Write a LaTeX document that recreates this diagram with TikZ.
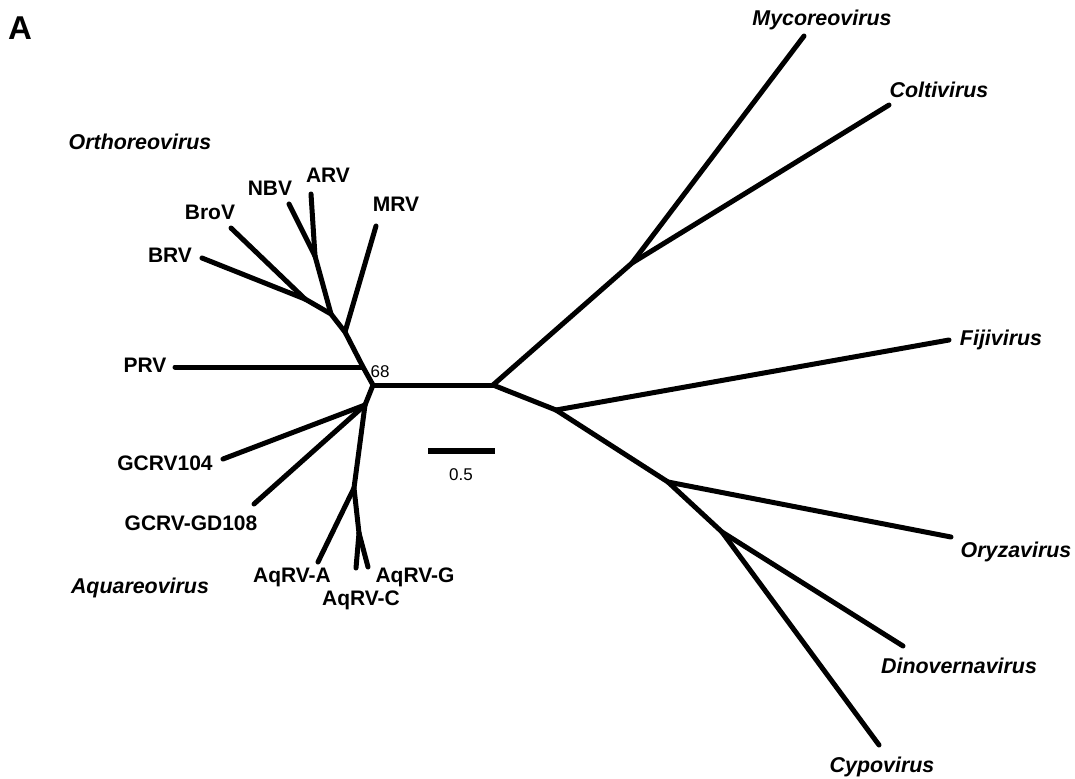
\documentclass[tikz,border=0pt]{standalone}
\usepackage{fontspec}
\setmainfont{Liberation Sans}
\tikzset{
	branch/.style={line width=2.5pt, line cap=round, line join=round},
	taxon/.style={anchor=base, inner sep=0pt, font=\fontsize{10.5}{12}\selectfont\bfseries},
	genus/.style={anchor=base, inner sep=0pt, font=\fontsize{10.7}{12}\selectfont\bfseries\itshape},
	support/.style={anchor=base, inner sep=0pt, font=\fontsize{8.5}{10}\selectfont}
}
\begin{document}
\begin{tikzpicture}[x=0.5pt, y=-0.5pt]
		
		\useasboundingbox (0,0) rectangle (1075,778);
		
		% internal nodes
		\coordinate (root) at (373,385);
		\coordinate (split) at (493,385);
		\coordinate (o1) at (363,367);
		\coordinate (o2) at (345,332);
		\coordinate (o3) at (331,314);
		\coordinate (ob) at (305,299);
		\coordinate (na) at (315,256);
		\coordinate (a1) at (365,405);
		\coordinate (a2) at (354,488);
		\coordinate (a3) at (359,533);
		\coordinate (m1) at (632,263);
		\coordinate (f1) at (556,410);
		\coordinate (or1) at (668,482);
		\coordinate (d1) at (722,532);
		
		% tips
		\coordinate (tBRV) at (202,258);
		\coordinate (tBroV) at (231,228);
		\coordinate (tNBV) at (289,204);
		\coordinate (tARV) at (311,194);
		\coordinate (tMRV) at (376,226);
		\coordinate (tPRV) at (175,367);
		\coordinate (tGCRV) at (223,459);
		\coordinate (tGD) at (254,504);
		\coordinate (tAqA) at (318,562);
		\coordinate (tAqC) at (356,568);
		\coordinate (tAqG) at (368,567);
		\coordinate (tMyco) at (804,36);
		\coordinate (tColti) at (889,105);
		\coordinate (tFiji) at (949,340);
		\coordinate (tOryza) at (951,537);
		\coordinate (tDino) at (903,646);
		\coordinate (tCypo) at (879,745);
		
		% Orthoreovirus
		\draw[branch] (root) -- (o1) -- (o2) -- (o3) -- (ob);
		\draw[branch] (ob) -- (tBRV);
		\draw[branch] (ob) -- (tBroV);
		\draw[branch] (o3) -- (na);
		\draw[branch] (na) -- (tNBV);
		\draw[branch] (na) -- (tARV);
		\draw[branch] (o2) -- (tMRV);
		\draw[branch] (o1) -- (tPRV);
		
		% Aquareovirus
		\draw[branch] (root) -- (a1) -- (a2) -- (a3);
		\draw[branch] (a1) -- (tGCRV);
		\draw[branch] (a1) -- (tGD);
		\draw[branch] (a2) -- (tAqA);
		\draw[branch] (a3) -- (tAqC);
		\draw[branch] (a3) -- (tAqG);
		
		% other genera
		\draw[branch] (root) -- (split);
		\draw[branch] (split) -- (m1);
		\draw[branch] (m1) -- (tMyco);
		\draw[branch] (m1) -- (tColti);
		\draw[branch] (split) -- (f1);
		\draw[branch] (f1) -- (tFiji);
		\draw[branch] (f1) -- (or1);
		\draw[branch] (or1) -- (tOryza);
		\draw[branch] (or1) -- (d1);
		\draw[branch] (d1) -- (tDino);
		\draw[branch] (d1) -- (tCypo);
		
		% scale bar
		\coordinate (sbL) at (428,451);
		\coordinate (sbR) at (495,451);
		\draw[line width=2.7pt] (sbL) -- (sbR);
		\node[support] (sb) at (461,480) {0.5};
		
		% labels
		\node[anchor=base, inner sep=0pt, font=\fontsize{16.5}{18}\selectfont\bfseries] (panel) at (20,39) {A};
		\node[support] (boot) at (380,377) {68};
		
		\node[taxon] (BRV) at (170,262) {BRV};
		\node[taxon] (BroV) at (210,219) {BroV};
		\node[taxon] (NBV) at (270,195) {NBV};
		\node[taxon] (ARV) at (328,182) {ARV};
		\node[taxon] (MRV) at (396,211) {MRV};
		\node[taxon] (PRV) at (145,372) {PRV};
		\node[taxon] (GCRV) at (165,470) {GCRV104};
		\node[taxon] (GD) at (191,530) {GCRV-GD108};
		\node[taxon] (AqA) at (292,582) {AqRV-A};
		\node[taxon] (AqG) at (415,582) {AqRV-G};
		\node[taxon] (AqC) at (361,605) {AqRV-C};
		
		\node[genus] (ortho) at (140,149) {Orthoreovirus};
		\node[genus] (aqua) at (140,593) {Aquareovirus};
		\node[genus] (myco) at (822,25) {Mycoreovirus};
		\node[genus] (colti) at (939,97) {Coltivirus};
		\node[genus] (fiji) at (1001,345) {Fijivirus};
		\node[genus] (oryza) at (1016,557) {Oryzavirus};
		\node[genus] (dino) at (959,673) {Dinovernavirus};
		\node[genus] (cypo) at (882,772) {Cypovirus};
		
	\end{tikzpicture}
\end{document}
